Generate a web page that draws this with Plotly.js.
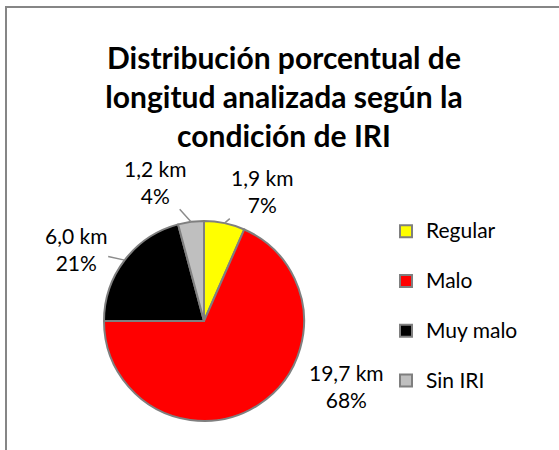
<!DOCTYPE html>
<html><head><meta charset="utf-8">
<script src="https://cdn.plot.ly/plotly-3.0.1.min.js"></script>
<style>
html,body{margin:0;padding:0;background:#fff}
#wrap{position:relative;width:559px;height:450px;overflow:hidden}
#chart{position:absolute;left:0;top:0;width:559px;height:450px;z-index:1}
#frame{position:absolute;left:5px;top:6px;width:600px;height:500px;border:2px solid #868686;box-sizing:border-box;pointer-events:none;z-index:10}
</style>
</head><body><div id="wrap"><div id="chart"></div><div id="frame"></div></div>
<script>
// ---- data ----
const categories = ['Regular', 'Malo', 'Muy malo', 'Sin IRI'];
const lengthsKm = [1.9, 19.7, 6.0, 1.2];
const sliceColors = ['#FFFF00', '#FF0000', '#000000', '#BFBFBF'];
const chartTitle = 'Distribución porcentual de<br>longitud analizada según la<br>condición de IRI';

// ---- layout / style constants ----
const W = 559, H = 450;
const cx = 204, cy = 321, R = 100;           // pie placement in pixels
const labelOffsets = [[37, -32], [88, -19], [-49, -11], [-36, -40]];
const showLeader = [true, false, true, true];
const FONT = 'Lato, Carlito, "Liberation Sans", sans-serif';

const total = lengthsKm.reduce((a, b) => a + b, 0);
let cum = 0;
const annotations = lengthsKm.map((v, i) => {
  const frac = v / total;
  const mid = (cum + frac / 2) * 2 * Math.PI;
  cum += frac;
  const ex = cx + R * Math.sin(mid), ey = cy - R * Math.cos(mid);
  const kmText = v.toFixed(1).replace('.', ',') + ' km';
  const pct = Math.round(frac * 100) + '%';
  return {
    xref: 'paper', yref: 'paper', x: ex / W, y: 1 - ey / H,
    text: kmText + '<br>' + pct, showarrow: true,
    ax: labelOffsets[i][0], ay: labelOffsets[i][1],
    arrowhead: 0, arrowwidth: 1.5,
    arrowcolor: showLeader[i] ? '#8c8c8c' : 'rgba(0,0,0,0)',
    standoff: 0, startstandoff: 0,
    font: {family: FONT, size: 21, color: '#000'}
  };
});

// legend entries: label on first line, blank second line gives the wide spacing
const legendLabels = categories.map(c => '<span style="font-size:21px">' + c + '</span><br>&nbsp;');

const trace = {
  type: 'pie',
  labels: legendLabels,
  values: lengthsKm,
  sort: false,
  direction: 'clockwise',
  rotation: 0,
  marker: {colors: sliceColors, line: {color: '#7f7f7f', width: 2}},
  textinfo: 'none',
  textposition: 'none',
  domain: {x: [(cx - R) / W, (cx + R) / W], y: [1 - (cy + R) / H, 1 - (cy - R) / H]},
  hoverinfo: 'value+percent'
};

const layout = {
  width: W, height: H,
  margin: {l: 0, r: 0, t: 0, b: 0},
  paper_bgcolor: 'rgba(255,255,255,0)',
  showlegend: true,
  title: {
    text: chartTitle,
    font: {family: FONT, size: 30, color: '#000', weight: 'bold'},
    x: 284 / W, xanchor: 'center', xref: 'paper',
    y: 1 - 69 / H, yanchor: 'top', yref: 'paper'
  },
  legend: {
    x: 386 / W, xanchor: 'left',
    y: 1 - 213 / H, yanchor: 'top',
    valign: 'top',
    font: {family: FONT, size: 18, color: '#000'},
    bgcolor: 'rgba(0,0,0,0)', borderwidth: 0
  },
  annotations: annotations
};

Plotly.newPlot('chart', [trace], layout, {displayModeBar: false});
</script>
</body></html>
